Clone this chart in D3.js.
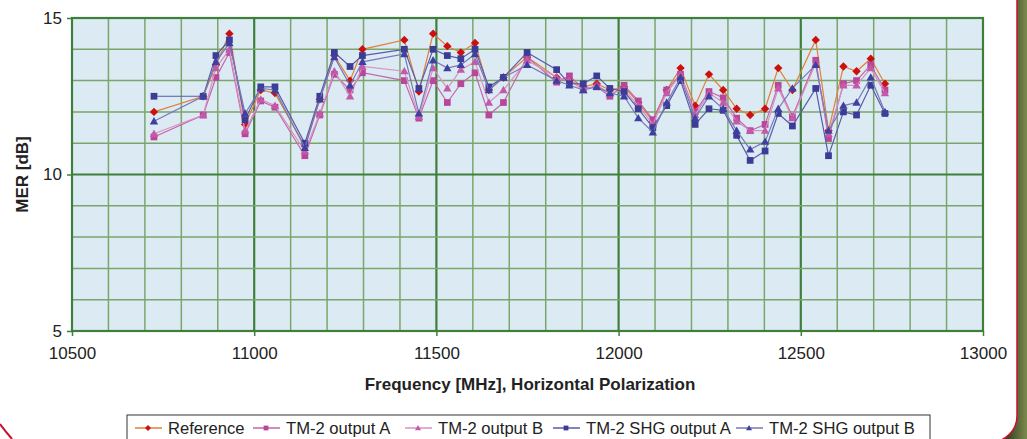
<!DOCTYPE html>
<html>
<head>
<meta charset="utf-8">
<title>MER vs Frequency</title>
<script src="https://d3js.org/d3.v7.min.js"></script>
<style>
  body { margin: 0; background: #ffffff; overflow: hidden; }
  text { font-family: Arial, "Liberation Sans", sans-serif; fill: #222; }
</style>
</head>
<body>
<script>
// Frequencies in MHz, values in dB
var freq = [10725, 10860, 10895, 10932, 10975, 11018, 11057, 11139, 11180, 11220,
            11263, 11297, 11412, 11452, 11491, 11530, 11567, 11606, 11644, 11684,
            11749, 11830, 11865, 11903, 11940, 11976, 12015, 12054, 12094, 12132,
            12170, 12210, 12248, 12287, 12324, 12361, 12402, 12438, 12477, 12541,
            12576, 12617, 12653, 12692, 12731];

var reference = [12.0, 12.5, 13.5, 14.5, 11.6, 12.7, 12.6, 10.9, 12.4, 13.8,
                 13.0, 14.0, 14.3, 12.65, 14.5, 14.1, 13.9, 14.2, 12.7, 13.1,
                 13.75, 13.1, 13.0, 12.8, 12.9, 12.7, 12.8, 12.3, 11.7, 12.7,
                 13.4, 12.2, 13.2, 12.7, 12.1, 11.9, 12.1, 13.4, 12.7, 14.3,
                 11.4, 13.45, 13.3, 13.7, 12.9];

var tm2A = [11.2, 11.9, 13.1, 13.9, 11.3, 12.35, 12.15, 10.6, 11.9, 13.2,
            12.7, 13.25, 13.0, 11.8, 13.0, 12.3, 12.9, 13.25, 11.9, 12.3,
            13.75, 12.95, 13.15, 12.75, 12.8, 12.5, 12.85, 12.35, 11.75, 12.7,
            13.2, 12.0, 12.65, 12.45, 11.8, 11.4, 11.6, 12.85, 11.85, 13.65,
            11.15, 12.9, 13.0, 13.5, 12.7];

var tm2B = [11.3, 11.9, 13.4, 14.0, 11.4, 12.4, 12.2, 10.75, 11.95, 13.3,
            12.5, 13.45, 13.3, 11.85, 13.4, 12.75, 13.35, 13.6, 12.3, 12.7,
            13.65, 13.1, 13.0, 12.7, 12.85, 12.6, 12.7, 12.2, 11.6, 12.6,
            13.2, 11.9, 12.6, 12.3, 11.7, 11.4, 11.4, 12.75, 11.8, 13.55,
            11.3, 12.85, 12.85, 13.4, 12.6];

var shgA = [12.5, 12.5, 13.8, 14.3, 11.75, 12.8, 12.8, 11.0, 12.5, 13.9,
            13.45, 13.8, 14.0, 12.75, 14.0, 13.8, 13.7, 14.0, 12.8, 13.1,
            13.9, 13.35, 12.9, 12.9, 13.15, 12.75, 12.65, 12.1, 11.5, 12.2,
            13.0, 11.6, 12.1, 12.05, 11.25, 10.45, 10.75, 11.95, 11.55, 12.75,
            10.6, 12.0, 11.9, 12.85, 11.95];

var shgB = [11.7, 12.5, 13.6, 14.2, 11.95, 12.75, 12.7, 10.85, 12.4, 13.75,
            12.85, 13.6, 13.85, 11.95, 13.65, 13.4, 13.5, 13.85, 12.7, 13.1,
            13.5, 13.0, 12.85, 12.7, 12.8, 12.6, 12.5, 11.8, 11.35, 12.3,
            13.1, 11.8, 12.5, 12.1, 11.4, 10.8, 11.05, 12.1, 12.75, 13.5,
            11.4, 12.2, 12.3, 13.1, 12.0];

var xTicks = [10500, 11000, 11500, 12000, 12500, 13000];
var yTicks = [5, 10, 15];

var series = [
  {name: "Reference",         values: reference, line: "#e0803a", fill: "#cc1010", shape: "diamond"},
  {name: "TM-2 output A",     values: tm2A,      line: "#c266aa", fill: "#b8479a", shape: "square"},
  {name: "TM-2 output B",     values: tm2B,      line: "#d890c4", fill: "#c25aa8", shape: "triangle"},
  {name: "TM-2 SHG output A", values: shgA,      line: "#5a5aaa", fill: "#3c3c96", shape: "square"},
  {name: "TM-2 SHG output B", values: shgB,      line: "#7878b8", fill: "#3e40a0", shape: "triangle"}
];

var W = 1027, H = 439;
var svg = d3.select("body").append("svg")
    .attr("width", W)
    .attr("height", H);

// decorative frame: olive edge on the right, red outline on the white panel
var defs = svg.append("defs");
var grad = defs.append("linearGradient").attr("id", "edge").attr("x1", 0).attr("x2", 1);
grad.append("stop").attr("offset", "0%").attr("stop-color", "#2f3a1e");
grad.append("stop").attr("offset", "100%").attr("stop-color", "#7d8a4e");
svg.append("rect").attr("x", 1005).attr("y", 0).attr("width", 22).attr("height", H)
    .attr("fill", "url(#edge)");
svg.append("rect").attr("x", -40).attr("y", -40).attr("width", 1057).attr("height", 482)
    .attr("rx", 26).attr("fill", "#ffffff").attr("stroke", "#c8102e").attr("stroke-width", 1.5);
svg.append("path")
    .attr("d", "M0,424 Q6,432 12,439")
    .attr("fill", "none").attr("stroke", "#c8102e").attr("stroke-width", 2);

var x = d3.scaleLinear().domain([10500, 13000]).range([72, 983]);
var y = d3.scaleLinear().domain([5, 15]).range([331, 18]);

// plot background
svg.append("rect")
    .attr("x", x(10500)).attr("y", y(15))
    .attr("width", x(13000) - x(10500)).attr("height", y(5) - y(15))
    .attr("fill", "#dcebf3");

// grid
var grid = svg.append("g");
d3.range(10600, 13000, 100).forEach(function(f) {
  var major = f % 500 === 0;
  grid.append("line")
      .attr("x1", x(f)).attr("x2", x(f))
      .attr("y1", y(5)).attr("y2", y(15))
      .attr("stroke", major ? "#3f7f3c" : "#7aa66c")
      .attr("stroke-width", major ? 2.2 : 1.5);
});
d3.range(6, 15, 1).forEach(function(v) {
  var major = v % 5 === 0;
  grid.append("line")
      .attr("x1", x(10500)).attr("x2", x(13000))
      .attr("y1", y(v)).attr("y2", y(v))
      .attr("stroke", major ? "#3f7f3c" : "#7aa66c")
      .attr("stroke-width", major ? 2.2 : 1.5);
});
svg.append("rect")
    .attr("x", x(10500)).attr("y", y(15))
    .attr("width", x(13000) - x(10500)).attr("height", y(5) - y(15))
    .attr("fill", "none").attr("stroke", "#3f7f3c").attr("stroke-width", 2.2);

// axes
var xAxis = svg.append("g")
    .attr("transform", "translate(0," + y(5) + ")")
    .call(d3.axisBottom(x).tickValues(xTicks).tickSize(5).tickPadding(11).tickFormat(d3.format("d")));
xAxis.select(".domain").remove();
xAxis.selectAll("line").attr("stroke", "#3f7f3c").attr("stroke-width", 1.5);
xAxis.selectAll("text").style("font-size", "17px").attr("fill", "#222");

var yAxis = svg.append("g")
    .attr("transform", "translate(" + x(10500) + ",0)")
    .call(d3.axisLeft(y).tickValues(yTicks).tickSize(5).tickPadding(5));
yAxis.select(".domain").remove();
yAxis.selectAll("line").attr("stroke", "#3f7f3c").attr("stroke-width", 1.5);
yAxis.selectAll("text").style("font-size", "17px").attr("fill", "#222");

// axis titles
svg.append("text")
    .attr("x", 530).attr("y", 390)
    .attr("text-anchor", "middle")
    .style("font-size", "17px").style("font-weight", "bold")
    .text("Frequency [MHz], Horizontal Polarization");

svg.append("text")
    .attr("transform", "translate(28," + y(10) + ") rotate(-90)")
    .attr("text-anchor", "middle")
    .style("font-size", "17px").style("font-weight", "bold")
    .text("MER [dB]");

// symbols
function marker(g, shape, cx, cy, fill, s) {
  if (shape === "diamond") {
    g.append("path").attr("d", "M" + cx + "," + (cy - s) + "L" + (cx + s) + "," + cy +
        "L" + cx + "," + (cy + s) + "L" + (cx - s) + "," + cy + "Z").attr("fill", fill);
  } else if (shape === "square") {
    g.append("rect").attr("x", cx - s * 0.8).attr("y", cy - s * 0.8)
        .attr("width", s * 1.6).attr("height", s * 1.6).attr("fill", fill);
  } else {
    g.append("path").attr("d", "M" + cx + "," + (cy - s) + "L" + (cx + s) + "," + (cy + s * 0.75) +
        "L" + (cx - s) + "," + (cy + s * 0.75) + "Z").attr("fill", fill);
  }
}

var line = d3.line()
    .x(function(d, i) { return x(freq[i]); })
    .y(function(d) { return y(d); });

series.forEach(function(s) {
  var g = svg.append("g");
  g.append("path")
      .datum(s.values)
      .attr("d", line)
      .attr("fill", "none")
      .attr("stroke", s.line)
      .attr("stroke-width", 1.2);
  s.values.forEach(function(v, i) {
    marker(g, s.shape, x(freq[i]), y(v), s.fill, 4.2);
  });
});

// legend
var legend = svg.append("g");
legend.append("rect")
    .attr("x", 127).attr("y", 415).attr("width", 803).attr("height", 40)
    .attr("fill", "#fff").attr("stroke", "#333").attr("stroke-width", 1);
var legendX = [135, 253, 405, 553, 736];
series.forEach(function(s, i) {
  var lx = legendX[i], ly = 428;
  legend.append("line")
      .attr("x1", lx).attr("x2", lx + 27)
      .attr("y1", ly).attr("y2", ly)
      .attr("stroke", s.line).attr("stroke-width", 1.5);
  marker(legend, s.shape, lx + 13, ly, s.fill, 3);
  legend.append("text")
      .attr("x", lx + 33).attr("y", ly + 6)
      .style("font-size", "16.6px")
      .text(s.name);
});
</script>
</body>
</html>
